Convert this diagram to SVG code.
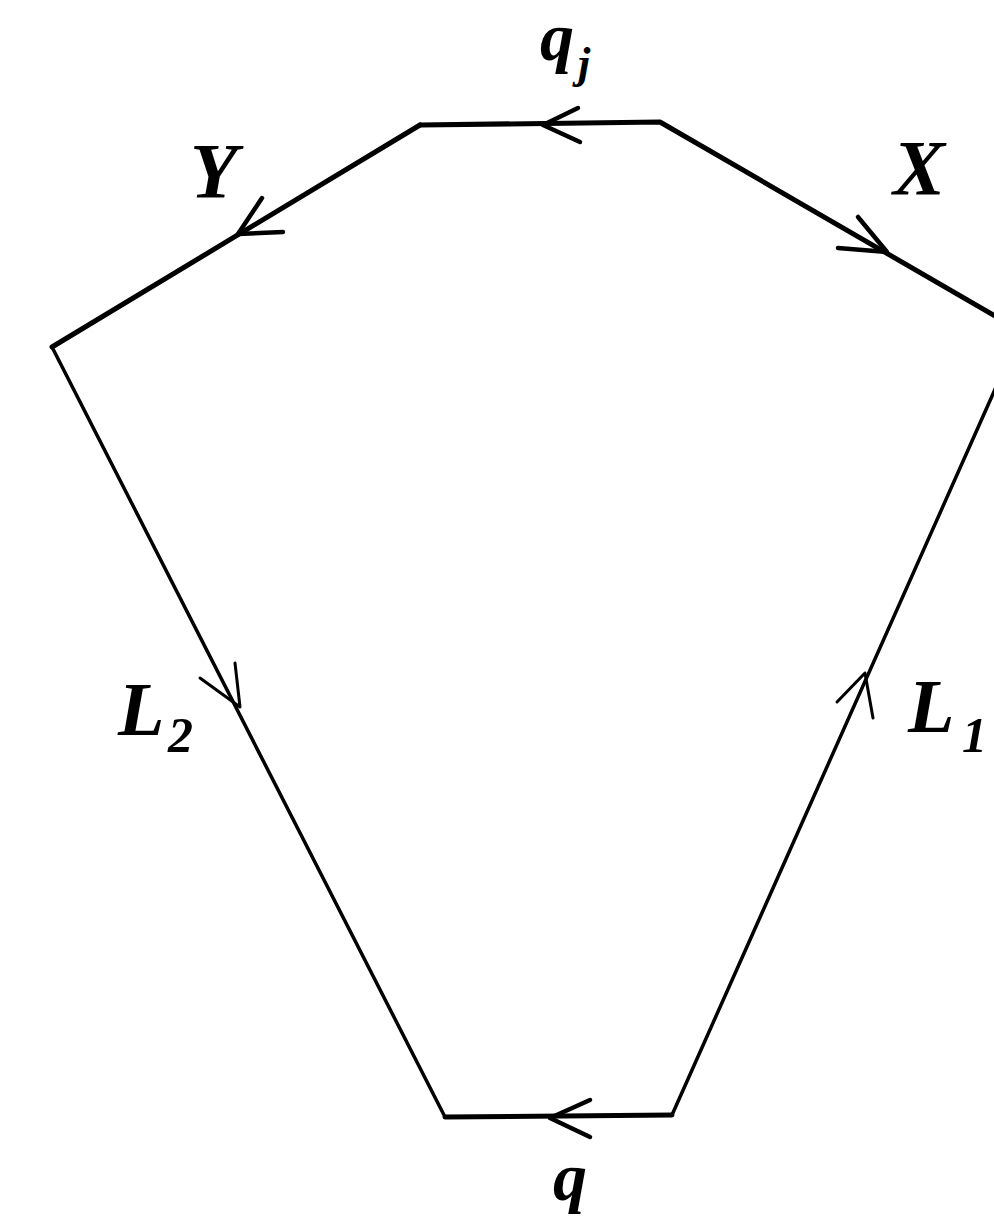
<svg xmlns="http://www.w3.org/2000/svg" width="994" height="1223" viewBox="0 0 994 1223">
<style>
.e{fill:none;stroke:#000;stroke-linecap:round;stroke-linejoin:round}
.thick{stroke-width:5}
.thin{stroke-width:3.5}
.a{fill:none;stroke:#000;stroke-width:4.5;stroke-linecap:round;stroke-linejoin:round}
.at{fill:none;stroke:#000;stroke-width:3;stroke-linecap:round;stroke-linejoin:round}
.t{font-family:"Liberation Serif","Times New Roman",serif;font-style:italic;font-weight:bold;fill:#000}
</style>
<rect width="994" height="1223" fill="#fff"/>
<g id="connectors">
<path class="e thick" d="M420,125 L660,122 L1021,331"/>
<path class="e thick" d="M420,125 L52,347"/>
<path class="e thin" d="M52,347 L445,1117"/>
<path class="e thin" d="M1021,331 L672,1115"/>
<path class="e thick" d="M445,1117 L672,1115"/>
<path class="a" d="M578,108 L543,125 L580,142"/>
<path class="a" d="M262,198 L238,234 L283,232"/>
<path class="a" d="M858,217 L887,252 L838,248"/>
<path class="at" d="M235,663 L240,707 L200,678"/>
<path class="at" d="M873,718 L865,673 L837,702"/>
<path class="a" d="M590,1100 L550,1118 L590,1137"/>
</g>
<g id="labels">
<text class="t" x="540" y="60" font-size="68">q</text>
<text class="t" x="578" y="78" font-size="44">j</text>
<text class="t" x="190" y="197" font-size="78">Y</text>
<text class="t" x="893" y="194" font-size="78">X</text>
<text class="t" x="118" y="735" font-size="76">L</text>
<text class="t" x="168" y="752" font-size="50">2</text>
<text class="t" x="908" y="732" font-size="76">L</text>
<text class="t" x="962" y="752" font-size="50">1</text>
<text class="t" x="553" y="1200" font-size="68">q</text>
</g>
</svg>
